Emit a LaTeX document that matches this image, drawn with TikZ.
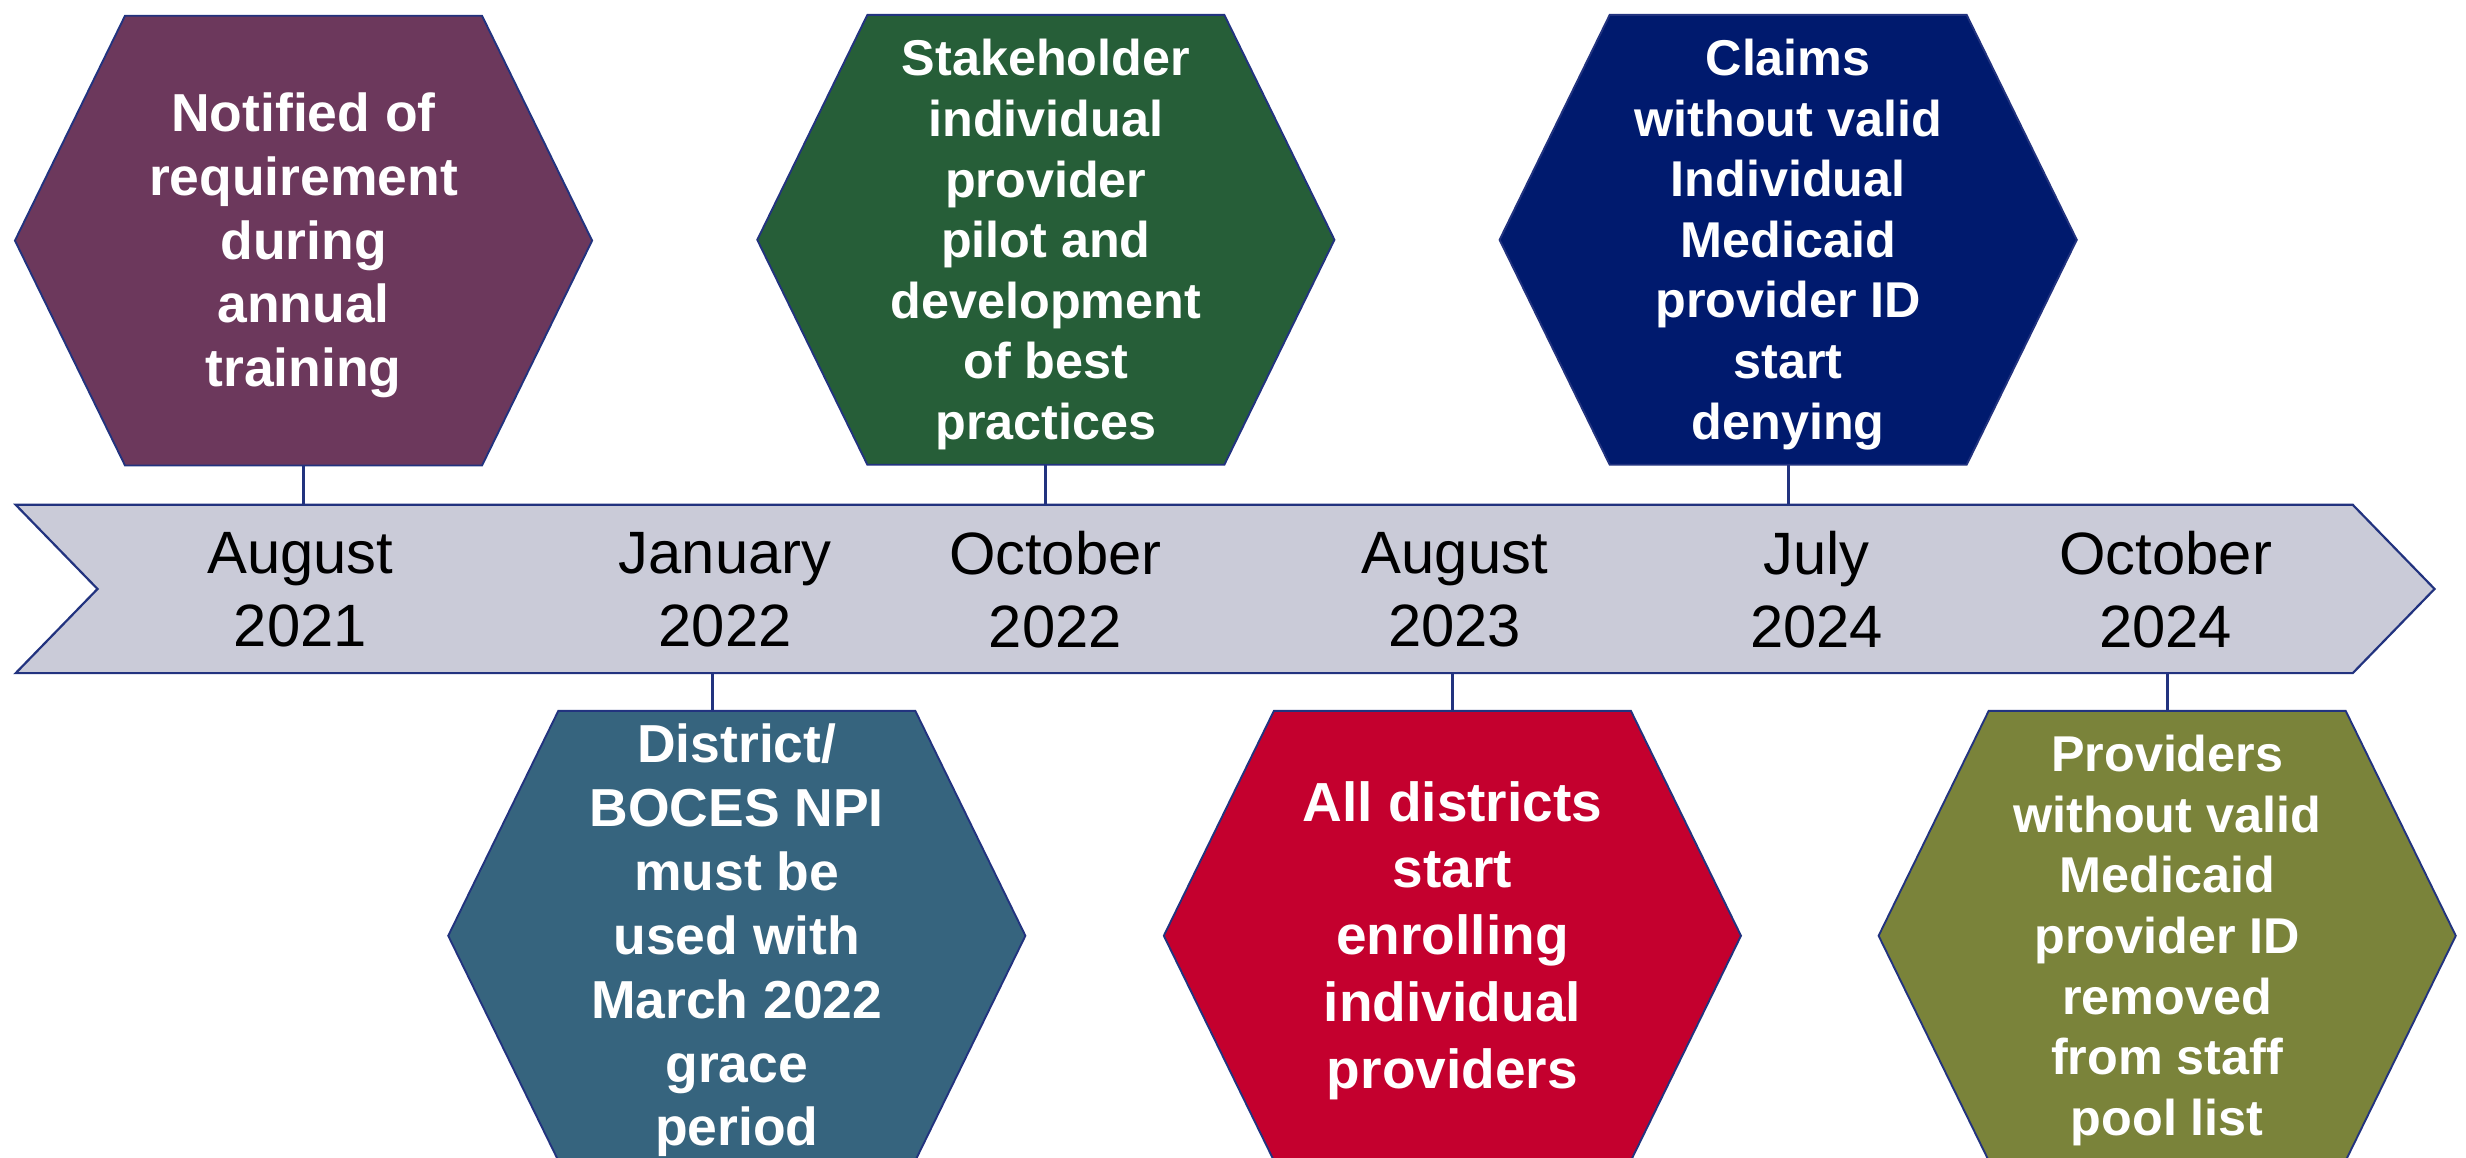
\documentclass[tikz,border=0pt]{standalone}
\usepackage{fontspec}
\setmainfont{Liberation Sans}
\definecolor{hexline}{HTML}{22337F}
\definecolor{bandfill}{HTML}{CACBD8}
\definecolor{cPurple}{HTML}{6C385C}
\definecolor{cGreen}{HTML}{265E38}
\definecolor{cNavy}{HTML}{001A6E}
\definecolor{cTeal}{HTML}{36647E}
\definecolor{cRed}{HTML}{C4002E}
\definecolor{cOlive}{HTML}{7A833A}
\newcommand{\hexbox}[6]{%
  \fill[#4, draw=hexline, line width=0.6pt]
    (#2-183.5,#3) -- (#2-113.5,#3-143) -- (#2+113.5,#3-143) --
    (#2+183.5,#3) -- (#2+113.5,#3+143) -- (#2-113.5,#3+143) -- cycle;
  \node[hextext, #5] (#1) at (#2,#3+3) {#6};
  \coordinate (#1-top) at (#2,#3-143);
  \coordinate (#1-bot) at (#2,#3+143);
}
\begin{document}
\begin{tikzpicture}[x=0.5pt,y=-0.5pt,
  hextext/.style={text=white, align=center, inner sep=0pt},
  fsA/.style={font=\fontsize{17}{20.3}\selectfont\bfseries},
  fsB/.style={font=\fontsize{16}{19.25}\selectfont\bfseries},
  fsC/.style={font=\fontsize{17.5}{21.25}\selectfont\bfseries},
  datelabel/.style={text=black, align=center, inner sep=0pt, font=\fontsize{19}{23}\selectfont},
  conn/.style={draw=hexline, line width=0.9pt}]
\useasboundingbox (0,0) rectangle (1568,736.3);
\clip (0,0) rectangle (1568,736.3);
% timeline band
\fill[bandfill, draw=hexline, line width=0.7pt]
  (10,321) -- (1496,321) -- (1548,374.5) -- (1496,428) -- (10,428) -- (62,374.5) -- cycle;
\coordinate (bandtop) at (0,321);
\coordinate (bandbot) at (0,428);
% hexagons
\hexbox{h1}{193}{153}{cPurple}{fsA}{Notified of\\requirement\\during\\annual\\training}
\hexbox{h2}{665}{152.5}{cGreen}{fsB}{Stakeholder\\individual\\provider\\pilot and\\development\\of best\\practices}
\hexbox{h3}{1137}{152.5}{cNavy}{fsB}{Claims\\without valid\\Individual\\Medicaid\\provider ID\\start\\denying}
\hexbox{h4}{468.5}{595}{cTeal}{fsA}{District/\\BOCES NPI\\must be\\used with\\March 2022\\grace\\period}
\hexbox{h5}{923.5}{595}{cRed}{fsC}{All districts\\start\\enrolling\\individual\\providers}
\hexbox{h6}{1378}{595}{cOlive}{fsB}{Providers\\without valid\\Medicaid\\provider ID\\removed\\from staff\\pool list}
% connectors
\draw[conn] (h1-bot) -- (h1-bot |- bandtop);
\draw[conn] (h2-bot) -- (h2-bot |- bandtop);
\draw[conn] (h3-bot) -- (h3-bot |- bandtop);
\draw[conn] ([xshift=-7.75pt]h4-top) -- ([xshift=-7.75pt]h4-top |- bandbot);
\draw[conn] (h5-top) -- (h5-top |- bandbot);
\draw[conn] (h6-top) -- (h6-top |- bandbot);
% dates
\node[datelabel] (d1) at (191,375) {August\\2021};
\node[datelabel] (d2) at (461,375) {January\\2022};
\node[datelabel] (d3) at (671,375) {October\\2022};
\node[datelabel] (d4) at (925,375) {August\\2023};
\node[datelabel] (d5) at (1155,375) {July\\2024};
\node[datelabel] (d6) at (1377,375) {October\\2024};
\end{tikzpicture}
\end{document}
